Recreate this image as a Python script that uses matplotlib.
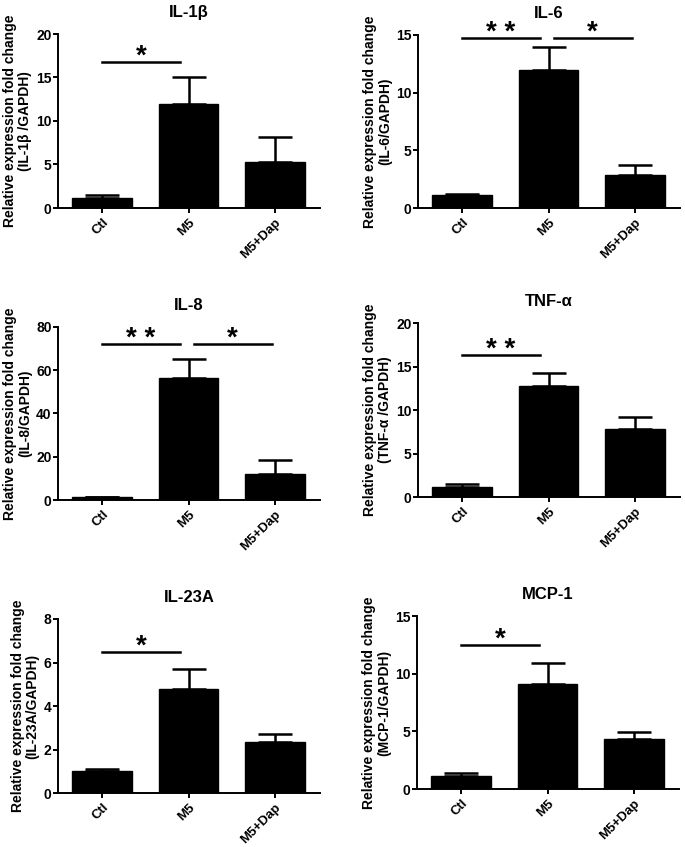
import matplotlib
matplotlib.use('Agg')
import matplotlib.pyplot as plt
import numpy as np

plt.rcParams['font.family'] = ['Liberation Sans', 'DejaVu Sans']
plt.rcParams['font.weight'] = 'bold'

groups = ['Ctl', 'M5', 'M5+Dap']

titles = ['IL-1β', 'IL-6', 'IL-8', 'TNF-α', 'IL-23A', 'MCP-1']
ylabels = ['(IL-1β /GAPDH)', '(IL-6/GAPDH)', '(IL-8/GAPDH)',
           '(TNF-α /GAPDH)', '(IL-23A/GAPDH)', '(MCP-1/GAPDH)']

# mean and upper error (SEM) for Ctl, M5, M5+Dap
means = [
    [1.1, 12.0, 5.3],
    [1.1, 12.0, 2.85],
    [1.3, 56.5, 11.8],
    [1.1, 12.8, 7.8],
    [1.03, 4.8, 2.35],
    [1.1, 9.1, 4.35],
]
errs = [
    [0.4, 3.1, 2.9],
    [0.1, 2.0, 0.9],
    [0.2, 8.5, 6.5],
    [0.4, 1.4, 1.4],
    [0.09, 0.92, 0.38],
    [0.3, 1.85, 0.6],
]
ymax = [20, 15, 80, 20, 8, 15]
ystep = [5, 5, 20, 5, 2, 5]

# significance brackets: (from group, to group, height, label)
sig = [
    [(0, 1, 16.8, '*')],
    [(0, 1, 14.75, '* *'), (1, 2, 14.75, '*')],
    [(0, 1, 72, '* *'), (1, 2, 72, '*')],
    [(0, 1, 16.3, '* *')],
    [(0, 1, 6.5, '*')],
    [(0, 1, 12.5, '*')],
]

# axes boxes in pixels: left, top, right, bottom
boxes = [
    (58, 34, 320, 208),
    (418, 35, 680, 208),
    (58, 327, 320, 500),
    (418, 323, 680, 497),
    (58, 619, 320, 793),
    (417, 616, 679, 789),
]

W, H = 685, 847
fig = plt.figure(figsize=(W / 100, H / 100), dpi=100)

for k in range(6):
    l, t, r, b = boxes[k]
    ax = fig.add_axes([l / W, 1 - b / H, (r - l) / W, (b - t) / H])
    x = np.arange(len(groups))
    ax.bar(x, means[k], width=0.69, color='black', edgecolor='black', zorder=2)
    ax.errorbar(x, means[k], yerr=[np.zeros(3), errs[k]], fmt='none',
                ecolor='black', elinewidth=1.8, capsize=12, capthick=1.8, zorder=3)
    for (i, j, h, lab) in sig[k]:
        x0 = i + (0.06 if i > 0 else 0)
        x1 = j - 0.1 if j == 1 else j - 0.04
        ax.plot([x0, x1], [h, h], color='black', lw=1.8, clip_on=False)
        ax.text((x0 + x1) / 2, h - ymax[k] * 0.045, lab, ha='center', va='bottom',
                fontsize=20, fontweight='bold')
    ax.set_xlim(-0.51, 2.52)
    ax.set_ylim(0, ymax[k])
    ax.set_yticks(np.arange(0, ymax[k] + 0.01, ystep[k]))
    ax.set_xticks(x)
    ax.set_xticklabels(groups, rotation=45, ha='right', rotation_mode='anchor')
    ax.spines['top'].set_visible(False)
    ax.spines['right'].set_visible(False)
    ax.spines['left'].set_linewidth(1.4)
    ax.spines['bottom'].set_linewidth(1.4)
    ax.tick_params(axis='y', width=1.4, length=3.6, pad=1, labelsize=10)
    ax.tick_params(axis='x', width=1.4, length=3.6, pad=2.5, labelsize=9.5)
    ax.set_title(titles[k], fontsize=12, fontweight='bold', pad=12)
    ax.set_ylabel('Relative expression fold change\n' + ylabels[k],
                  fontsize=10, fontweight='bold', labelpad=3, linespacing=1.1)

fig.savefig('out.png', dpi=100)
